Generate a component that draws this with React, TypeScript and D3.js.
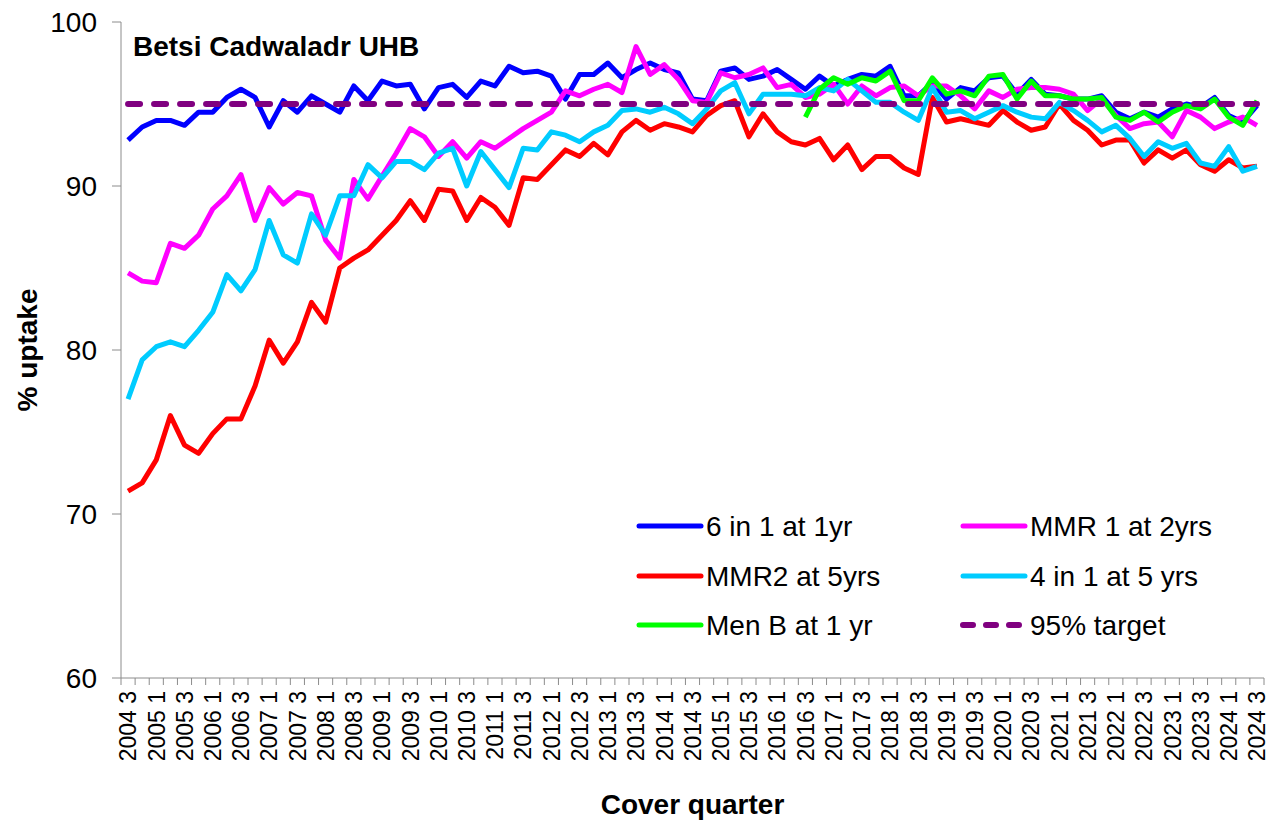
import * as d3 from 'd3';

// cover quarters, 2004 Q3 .. 2024 Q3
const quarters = [
  '2004 3', '2004 4',
  '2005 1', '2005 2', '2005 3', '2005 4', '2006 1', '2006 2', '2006 3', '2006 4',
  '2007 1', '2007 2', '2007 3', '2007 4', '2008 1', '2008 2', '2008 3', '2008 4',
  '2009 1', '2009 2', '2009 3', '2009 4', '2010 1', '2010 2', '2010 3', '2010 4',
  '2011 1', '2011 2', '2011 3', '2011 4', '2012 1', '2012 2', '2012 3', '2012 4',
  '2013 1', '2013 2', '2013 3', '2013 4', '2014 1', '2014 2', '2014 3', '2014 4',
  '2015 1', '2015 2', '2015 3', '2015 4', '2016 1', '2016 2', '2016 3', '2016 4',
  '2017 1', '2017 2', '2017 3', '2017 4', '2018 1', '2018 2', '2018 3', '2018 4',
  '2019 1', '2019 2', '2019 3', '2019 4', '2020 1', '2020 2', '2020 3', '2020 4',
  '2021 1', '2021 2', '2021 3', '2021 4', '2022 1', '2022 2', '2022 3', '2022 4',
  '2023 1', '2023 2', '2023 3', '2023 4', '2024 1', '2024 2', '2024 3',
];

const sixInOne = [
  92.8, 93.6, 94.0, 94.0, 93.7, 94.5, 94.5, 95.4, 95.9, 95.4,
  93.6, 95.2, 94.5, 95.5, 95.0, 94.5, 96.1, 95.2, 96.4, 96.1,
  96.2, 94.7, 96.0, 96.2, 95.4, 96.4, 96.1, 97.3, 96.9, 97.0,
  96.7, 95.3, 96.8, 96.8, 97.5, 96.6, 97.1, 97.5, 97.1, 96.9,
  95.3, 95.2, 97.0, 97.2, 96.5, 96.7, 97.1, 96.5, 95.9, 96.7,
  96.1, 96.5, 96.8, 96.7, 97.3, 95.5, 95.5, 96.3, 95.3, 96.0,
  95.8, 96.6, 96.7, 95.6, 96.5, 95.6, 95.5, 95.3, 95.3, 95.5,
  94.5, 94.1, 94.5, 94.2, 94.7, 95.0, 94.8, 95.4, 94.3, 93.9,
  94.9,
];

const mmr1At2 = [
  84.7, 84.2, 84.1, 86.5, 86.2, 87.0, 88.6, 89.4, 90.7, 87.9,
  89.9, 88.9, 89.6, 89.4, 86.7, 85.6, 90.4, 89.2, 90.6, 92.0,
  93.5, 93.0, 91.8, 92.7, 91.7, 92.7, 92.3, 92.9, 93.5, 94.0,
  94.5, 95.8, 95.5, 95.9, 96.2, 95.7, 98.5, 96.8, 97.4, 96.5,
  95.2, 95.1, 96.9, 96.6, 96.8, 97.2, 96.0, 96.2, 95.4, 95.6,
  96.2, 95.0, 96.1, 95.5, 96.0, 96.1, 95.5, 96.1, 96.1, 95.5,
  94.7, 95.8, 95.4, 95.9, 96.0, 96.0, 95.9, 95.6, 94.6, 95.3,
  94.3, 93.5, 93.8, 93.9, 93.0, 94.6, 94.2, 93.5, 93.9, 94.2,
  93.7,
];

const mmr2At5 = [
  71.4, 71.9, 73.3, 76.0, 74.2, 73.7, 74.9, 75.8, 75.8, 77.8,
  80.6, 79.2, 80.5, 82.9, 81.7, 85.0, 85.6, 86.1, 87.0, 87.9,
  89.1, 87.9, 89.8, 89.7, 87.9, 89.3, 88.7, 87.6, 90.5, 90.4,
  91.3, 92.2, 91.8, 92.6, 91.9, 93.3, 94.0, 93.4, 93.8, 93.6,
  93.3, 94.3, 94.9, 95.2, 93.0, 94.4, 93.3, 92.7, 92.5, 92.9,
  91.6, 92.5, 91.0, 91.8, 91.8, 91.1, 90.7, 95.4, 93.9, 94.1,
  93.9, 93.7, 94.6, 93.9, 93.4, 93.6, 95.0, 94.0, 93.4, 92.5,
  92.8, 92.8, 91.4, 92.2, 91.7, 92.2, 91.3, 90.9, 91.6, 91.1,
  91.2,
];

const fourInOneAt5 = [
  77.0, 79.4, 80.2, 80.5, 80.2, 81.2, 82.3, 84.6, 83.6, 84.9,
  87.9, 85.8, 85.3, 88.3, 87.0, 89.4, 89.4, 91.3, 90.5, 91.5,
  91.5, 91.0, 92.0, 92.3, 90.0, 92.1, 91.0, 89.9, 92.3, 92.2,
  93.3, 93.1, 92.7, 93.3, 93.7, 94.6, 94.7, 94.5, 94.8, 94.4,
  93.8, 94.7, 95.8, 96.3, 94.4, 95.6, 95.6, 95.6, 95.5, 96.0,
  95.8, 96.5, 95.8, 95.1, 95.1, 94.5, 94.0, 96.0, 94.5, 94.6,
  94.1, 94.5, 94.9, 94.5, 94.2, 94.1, 95.1, 94.6, 94.0, 93.3,
  93.7, 92.9, 91.8, 92.7, 92.3, 92.6, 91.4, 91.2, 92.4, 90.9,
  91.2,
];

// Men B starts at 2016 Q3
const menBStart = '2016 3';
const menBAt1 = [
  94.2, 95.9, 96.6, 96.2, 96.6, 96.4, 97.0, 95.2, 95.2, 96.6,
  95.6, 95.8, 95.5, 96.7, 96.8, 95.3, 96.4, 95.5, 95.5, 95.3,
  95.3, 95.4, 94.2, 94.0, 94.5, 93.9, 94.5, 94.9, 94.7, 95.3,
  94.2, 93.7, 95.2,
];

const targetValue = 95;
const yTicks = [60, 70, 80, 90, 100];

const seriesNames = ['6 in 1 at 1yr', 'MMR 1 at 2yrs', 'MMR2 at 5yrs', '4 in 1 at 5 yrs', 'Men B at 1 yr', '95% target'];
const seriesColors = ['#0000FF', '#FF00FF', '#FF0000', '#00CCFF', '#00FF00', '#800080'];

const FONT = 'Liberation Sans, Arial, sans-serif';

export default function App() {
  const width = 1281;
  const height = 825;
  const plot = { left: 121, right: 1264, top: 22, bottom: 678 };

  const x = d3.scaleBand<string>().domain(quarters).range([plot.left, plot.right]).padding(0);
  const bw = x.bandwidth();
  const cx = (q: string) => (x(q) as number) + bw / 2;
  const y = d3.scaleLinear().domain([60, 100]).range([plot.bottom, plot.top]);

  const line = d3.line<[string, number]>()
    .x(d => cx(d[0]))
    .y(d => y(d[1]));

  const startIdx = quarters.indexOf(menBStart);
  const series: [string, number][][] = [
    quarters.map((q, i) => [q, sixInOne[i]]),
    quarters.map((q, i) => [q, mmr1At2[i]]),
    quarters.map((q, i) => [q, mmr2At5[i]]),
    quarters.map((q, i) => [q, fourInOneAt5[i]]),
    menBAt1.map((v, i) => [quarters[startIdx + i], v]),
    quarters.map(q => [q, targetValue]),
  ];

  // tick marks at every band edge
  const edges = quarters.map(q => x(q) as number).concat([plot.right]);

  // legend layout: 2 columns x 3 rows
  const legCols = [639, 963];
  const legRows = [526, 576, 625];

  return (
    <div style={{ position: 'absolute', left: 0, top: 0 }}>
      <svg width={width} height={height} style={{ display: 'block', background: '#fff' }} fontFamily={FONT}>
        {/* axes */}
        <line x1={plot.left} x2={plot.left} y1={plot.top} y2={plot.bottom} stroke="#8c8c8c" strokeWidth={1} />
        <line x1={plot.left} x2={plot.right} y1={plot.bottom} y2={plot.bottom} stroke="#8c8c8c" strokeWidth={1} />
        {yTicks.map(t => (
          <g key={t}>
            <line x1={plot.left - 9} x2={plot.left} y1={y(t)} y2={y(t)} stroke="#8c8c8c" strokeWidth={1} />
            <text x={97} y={y(t)} dy="0.35em" textAnchor="end" fontSize={28} fill="#000">{t}</text>
          </g>
        ))}
        {edges.map((e, i) => (
          <line key={i} x1={e} x2={e} y1={plot.bottom} y2={plot.bottom + 7} stroke="#8c8c8c" strokeWidth={1} />
        ))}
        {quarters.map((q, i) => i % 2 === 0 ? (
          <text key={q} transform={`translate(${cx(q)},${plot.bottom + 13}) rotate(-90)`} dy="0.36em"
            textAnchor="end" fontSize={23} fill="#000">{q}</text>
        ) : null)}

        {/* series */}
        {series.map((s, k) => (
          <path key={k} d={line(s) ?? ''} fill="none" stroke={seriesColors[k]}
            strokeWidth={k === 5 ? 6 : 5} strokeLinejoin="round" strokeLinecap={k === 5 ? 'round' : 'butt'}
            strokeDasharray={k === 5 ? '12 14' : undefined} />
        ))}

        {/* title */}
        <text x={133} y={56} fontSize={28} fontWeight="bold" fill="#000">Betsi Cadwaladr UHB</text>

        {/* legend */}
        {seriesNames.map((name, k) => {
          const lx = legCols[k % 2];
          const ly = legRows[Math.floor(k / 2)];
          return (
            <g key={name}>
              <line x1={lx} x2={lx + 62} y1={ly} y2={ly} stroke={seriesColors[k]}
                strokeWidth={k === 5 ? 6 : 5} strokeLinecap="round"
                strokeDasharray={k === 5 ? '10 13' : undefined} />
              <text x={lx + 67} y={ly} dy="0.35em" fontSize={28} fill="#000">{name}</text>
            </g>
          );
        })}

        {/* axis titles */}
        <text transform={`translate(37,${(plot.top + plot.bottom) / 2}) rotate(-90)`} textAnchor="middle"
          fontSize={28} fontWeight="bold" fill="#000">% uptake</text>
        <text x={(plot.left + plot.right) / 2} y={814} textAnchor="middle" fontSize={28} fontWeight="bold"
          fill="#000">Cover quarter</text>
      </svg>
    </div>
  );
}
